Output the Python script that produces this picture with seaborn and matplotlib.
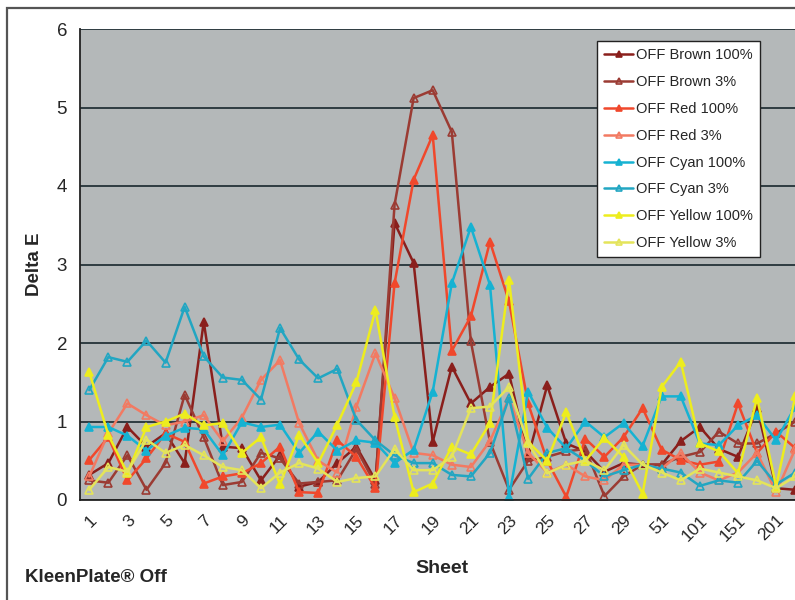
import numpy as np
import pandas as pd
import seaborn as sns
import matplotlib.pyplot as plt
from matplotlib.patches import Rectangle

# x categories (sheet numbers); only every other one gets a visible label
sheets = [str(n) for n in range(1, 31)] + ["51", "76", "101", "126", "151", "176", "201", "226"]

brown_100 = [0.32, 0.47, 0.93, 0.68, 0.85, 0.47, 2.27, 0.68, 0.66, 0.25, 0.57, 0.17, 0.23, 0.47, 0.68, 0.25,
             3.53, 3.02, 0.74, 1.70, 1.23, 1.44, 1.61, 0.55, 1.46, 0.72, 0.62, 0.36, 0.47, 0.45, 0.45, 0.75,
             0.93, 0.65, 0.55, 1.17, 0.15, 0.13]
brown_3 = [0.25, 0.22, 0.57, 0.13, 0.47, 1.34, 0.80, 0.19, 0.23, 0.60, 0.53, 0.21, 0.23, 0.25, 0.65, 0.20,
           3.76, 5.12, 5.22, 4.69, 2.02, 0.74, 0.13, 0.50, 0.55, 0.62, 0.65, 0.05, 0.30, 0.45, 0.45, 0.55,
           0.61, 0.87, 0.72, 0.72, 0.85, 1.00]
red_100 = [0.51, 0.80, 0.25, 0.53, 0.85, 0.74, 0.21, 0.30, 0.34, 0.47, 0.68, 0.10, 0.09, 0.76, 0.55, 0.15,
           2.76, 4.08, 4.65, 1.90, 2.34, 3.29, 2.53, 1.23, 0.50, 0.04, 0.78, 0.55, 0.80, 1.17, 0.64, 0.51,
           0.45, 0.49, 1.23, 0.60, 0.87, 0.66]
red_3 = [0.30, 0.85, 1.23, 1.08, 0.95, 1.00, 1.08, 0.75, 1.05, 1.53, 1.78, 0.98, 0.50, 0.35, 1.19, 1.87,
         1.30, 0.60, 0.57, 0.45, 0.42, 0.75, 1.30, 0.60, 0.35, 0.45, 0.30, 0.25, 0.45, 0.45, 0.40, 0.60,
         0.35, 0.25, 0.35, 0.60, 0.10, 0.65]
cyan_100 = [0.93, 0.93, 0.82, 0.63, 0.82, 0.92, 0.90, 0.57, 0.99, 0.93, 0.96, 0.60, 0.87, 0.63, 0.76, 0.73,
            0.47, 0.64, 1.38, 2.76, 3.48, 2.74, 0.04, 1.38, 0.92, 0.66, 1.00, 0.80, 0.98, 0.69, 1.32, 1.32,
            0.72, 0.70, 0.95, 1.08, 0.76, 1.19]
cyan_3 = [1.40, 1.82, 1.76, 2.03, 1.75, 2.46, 1.83, 1.56, 1.53, 1.28, 2.19, 1.79, 1.55, 1.67, 1.02, 0.76,
          0.57, 0.47, 0.47, 0.32, 0.30, 0.60, 1.30, 0.27, 0.60, 0.66, 0.50, 0.30, 0.38, 0.45, 0.40, 0.35,
          0.18, 0.25, 0.22, 0.50, 0.20, 0.35]
yellow_100 = [1.63, 0.83, 0.34, 0.93, 1.00, 1.10, 0.95, 0.98, 0.60, 0.80, 0.20, 0.83, 0.47, 0.96, 1.50, 2.42,
              1.06, 0.10, 0.21, 0.68, 0.58, 0.98, 2.80, 0.74, 0.50, 1.12, 0.50, 0.79, 0.55, 0.08, 1.44, 1.76,
              0.72, 0.62, 0.34, 1.30, 0.17, 1.32]
yellow_3 = [0.13, 0.42, 0.36, 0.77, 0.60, 0.70, 0.57, 0.42, 0.38, 0.15, 0.35, 0.47, 0.40, 0.23, 0.28, 0.30,
            0.65, 0.38, 0.38, 0.55, 1.17, 1.19, 1.44, 0.72, 0.34, 0.45, 0.50, 0.38, 0.70, 0.45, 0.35, 0.25,
            0.40, 0.35, 0.30, 0.25, 0.15, 0.30]

series = [
    ("OFF Brown 100%", brown_100, "#8a1f1c", True),
    ("OFF Brown 3%", brown_3, "#9b3b33", False),
    ("OFF Red 100%", red_100, "#f0482c", True),
    ("OFF Red 3%", red_3, "#f27a62", False),
    ("OFF Cyan 100%", cyan_100, "#16b2d2", True),
    ("OFF Cyan 3%", cyan_3, "#22a6c2", False),
    ("OFF Yellow 100%", yellow_100, "#eded1e", True),
    ("OFF Yellow 3%", yellow_3, "#e4e45a", False),
]

sns.set_style("white")
plt.rcParams['font.family'] = ['Liberation Sans', 'DejaVu Sans']

W, H = 795, 600
fig = plt.figure(figsize=(W / 100, H / 100), dpi=100)

# chart area continues past the right edge like in the scanned page
left, right, top, bottom = 79.7, 804.8, 29, 500
ax = fig.add_axes([left / W, 1 - bottom / H, (right - left) / W, (bottom - top) / H])
ax.set_facecolor("#b4b8b9")

x = np.arange(len(sheets))
for name, vals, col, filled in series:
    df = pd.DataFrame({"sheet": x, "dE": vals})
    sns.lineplot(data=df, x="sheet", y="dE", ax=ax, color=col, linewidth=1.8, marker="^",
                 markersize=6, markerfacecolor=col if filled else "none", markeredgecolor=col,
                 markeredgewidth=1.2, label=name, sort=False)

ax.set_xlim(-0.5, len(sheets) - 0.5)
ax.set_ylim(0, 6)
ax.set_yticks(range(0, 7))
ax.yaxis.grid(True, color="#253238", linewidth=1.3)
ax.set_axisbelow(True)

ax.set_xticks(x[::2])
ax.set_xticklabels(sheets[::2], rotation=45, ha="right", rotation_mode="anchor", fontsize=12.5)
ax.set_xticks(np.arange(-0.5, len(sheets)), minor=True)
ax.tick_params(axis="x", which="major", length=0, pad=9)
ax.tick_params(axis="x", which="minor", length=5, width=1, color="#222222", direction="out")
ax.tick_params(axis="y", length=5, width=1, color="#222222", direction="out", labelsize=13.5, pad=4)

for s in ["left", "bottom"]:
    ax.spines[s].set_color("#222222")
    ax.spines[s].set_linewidth(1.3)
ax.spines["top"].set_visible(False)
ax.spines["right"].set_visible(False)

ax.set_xlabel("Sheet", fontsize=14, fontweight="bold", labelpad=12)
ax.set_ylabel("Delta E", fontsize=13.5, fontweight="bold", labelpad=10)

leg = ax.legend(loc="upper left", bbox_to_anchor=(597 / W, 1 - 41 / H), bbox_transform=fig.transFigure,
                borderaxespad=0, frameon=True, fancybox=False, framealpha=1, facecolor="white",
                edgecolor="#222222", fontsize=10.5, handlelength=2.0, handletextpad=0.15,
                labelspacing=0.88, borderpad=0.5, markerscale=0.8)
leg.get_frame().set_linewidth(1.0)

# outer chart frame, cut off by the page on the right and bottom
fig.patches.append(Rectangle((7 / W, -0.1), 1.2, 1 - 8 / H + 0.1, transform=fig.transFigure,
                             fill=False, edgecolor="#555555", linewidth=1.6, zorder=0))

fig.text(25 / W, 1 - 578 / H, "KleenPlate\u00ae Off", fontsize=13.5, fontweight="bold", va="center",
         family=["Liberation Sans Narrow", "Liberation Sans", "DejaVu Sans"])

fig.savefig("out.png", dpi=100)
